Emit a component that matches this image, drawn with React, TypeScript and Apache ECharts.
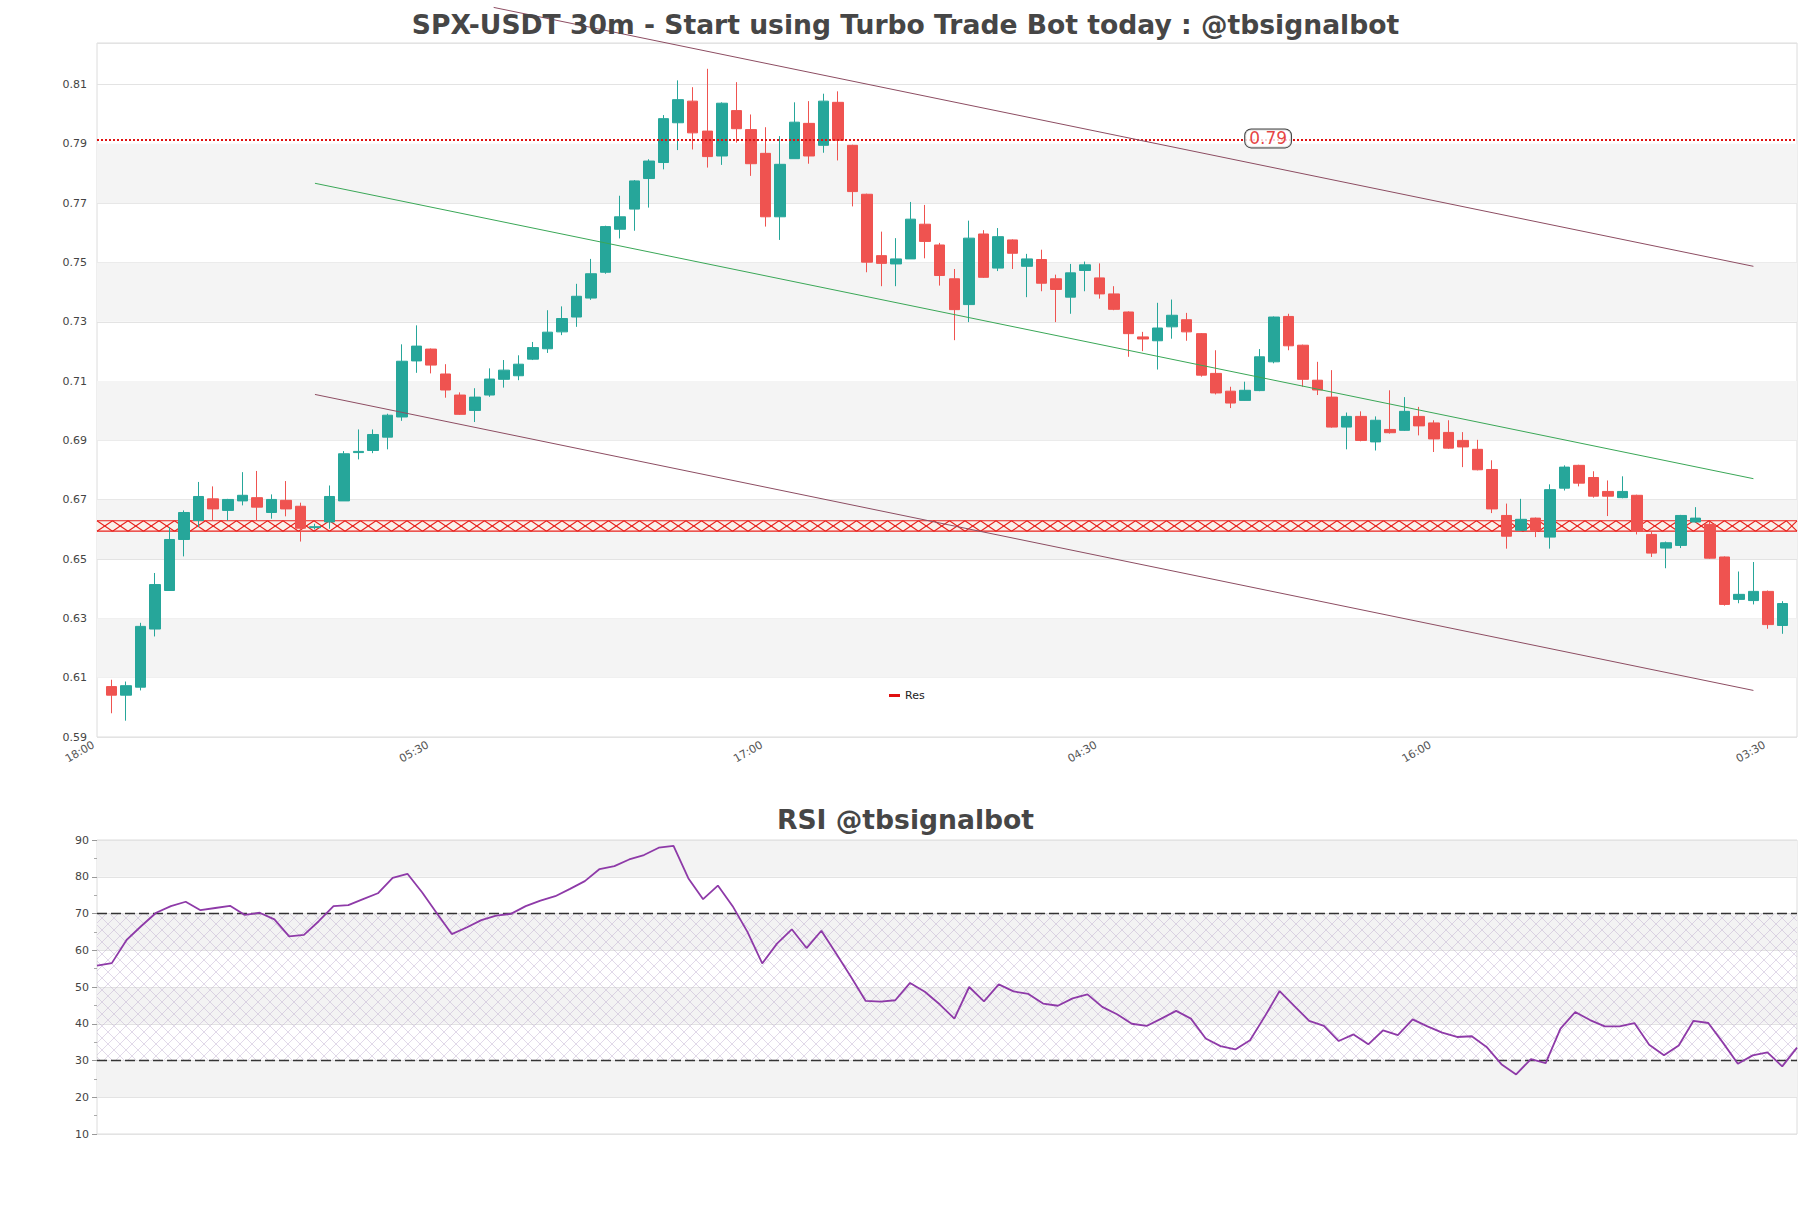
import React, { useEffect, useRef } from 'react';
import * as echarts from 'echarts';

const TITLE = 'SPX-USDT 30m - Start using Turbo Trade Bot today : @tbsignalbot';
const RSI_TITLE = 'RSI @tbsignalbot';
const START_MINUTES = 18 * 60; // first axis slot 18:00
const STEP_MINUTES = 30;
const SLOT_COUNT = 118; // axis slots (0..117), candles occupy 1..116
const LABEL_INTERVAL = 22; // a label every 23 slots

const opens = [
  0.6070, 0.6041, 0.6068, 0.6264, 0.6394, 0.6566, 0.6630, 0.6703, 0.6664, 0.6696,
  0.6707, 0.6657, 0.6698, 0.6678, 0.6606, 0.6625, 0.6696, 0.6859, 0.6866, 0.6911,
  0.6979, 0.7168, 0.7208, 0.7124, 0.7053, 0.7001, 0.7053, 0.7106, 0.7118, 0.7174,
  0.7209, 0.7266, 0.7316, 0.7380, 0.7467, 0.7612, 0.7680, 0.7783, 0.7837, 0.7971,
  0.8044, 0.7943, 0.7859, 0.8012, 0.7948, 0.7868, 0.7654, 0.7850, 0.7969, 0.7895,
  0.8040, 0.7895, 0.7730, 0.7523, 0.7495, 0.7512, 0.7629, 0.7559, 0.7445, 0.7358,
  0.7596, 0.7481, 0.7576, 0.7487, 0.7510, 0.7445, 0.7383, 0.7473, 0.7448, 0.7394,
  0.7333, 0.7249, 0.7236, 0.7283, 0.7307, 0.7260, 0.7126, 0.7066, 0.7035, 0.7068,
  0.7165, 0.7318, 0.7221, 0.7103, 0.7046, 0.6945, 0.6981, 0.6895, 0.6937, 0.6934,
  0.6981, 0.6959, 0.6927, 0.6900, 0.6870, 0.6802, 0.6647, 0.6597, 0.6638, 0.6574,
  0.6739, 0.6816, 0.6775, 0.6728, 0.6707, 0.6715, 0.6583, 0.6537, 0.6546, 0.6625,
  0.6617, 0.6507, 0.6364, 0.6360, 0.6391, 0.6276,
];
const closes = [
  0.6041, 0.6073, 0.6273, 0.6414, 0.6566, 0.6657, 0.6711, 0.6669, 0.6701, 0.6715,
  0.6675, 0.6701, 0.6669, 0.6604, 0.6609, 0.6711, 0.6855, 0.6863, 0.6920, 0.6985,
  0.7167, 0.7218, 0.7154, 0.7070, 0.6988, 0.7046, 0.7107, 0.7137, 0.7157, 0.7213,
  0.7265, 0.7311, 0.7386, 0.7462, 0.7621, 0.7654, 0.7775, 0.7842, 0.7985, 0.8049,
  0.7937, 0.7857, 0.8037, 0.7951, 0.7833, 0.7654, 0.7831, 0.7973, 0.7859, 0.8044,
  0.7912, 0.7739, 0.7501, 0.7497, 0.7512, 0.7646, 0.7571, 0.7456, 0.7341, 0.7582,
  0.7450, 0.7587, 0.7531, 0.7512, 0.7430, 0.7409, 0.7465, 0.7492, 0.7394, 0.7342,
  0.7260, 0.7242, 0.7279, 0.7322, 0.7266, 0.7120, 0.7060, 0.7026, 0.7069, 0.7182,
  0.7316, 0.7219, 0.7106, 0.7070, 0.6945, 0.6981, 0.6900, 0.6968, 0.6926, 0.6998,
  0.6949, 0.6905, 0.6874, 0.6878, 0.6801, 0.6669, 0.6577, 0.6634, 0.6597, 0.6734,
  0.6810, 0.6756, 0.6712, 0.6712, 0.6728, 0.6594, 0.6520, 0.6555, 0.6647, 0.6638,
  0.6503, 0.6347, 0.6381, 0.6391, 0.6279, 0.6350,
];
const lows = [
  0.5980, 0.5955, 0.6057, 0.6239, 0.6394, 0.6509, 0.6608, 0.6630, 0.6630, 0.6681,
  0.6630, 0.6636, 0.6644, 0.6559, 0.6600, 0.6602, 0.6696, 0.6836, 0.6857, 0.6870,
  0.6966, 0.7128, 0.7126, 0.7044, 0.6986, 0.6962, 0.7047, 0.7078, 0.7103, 0.7171,
  0.7195, 0.7255, 0.7283, 0.7374, 0.7462, 0.7581, 0.7607, 0.7685, 0.7814, 0.7879,
  0.7881, 0.7820, 0.7829, 0.7904, 0.7792, 0.7621, 0.7576, 0.7850, 0.7833, 0.7870,
  0.7844, 0.7689, 0.7467, 0.7420, 0.7420, 0.7512, 0.7514, 0.7422, 0.7238, 0.7299,
  0.7448, 0.7471, 0.7478, 0.7383, 0.7403, 0.7299, 0.7327, 0.7403, 0.7378, 0.7339,
  0.7182, 0.7201, 0.7139, 0.7243, 0.7236, 0.7115, 0.7055, 0.7009, 0.7034, 0.7066,
  0.7160, 0.7204, 0.7081, 0.7053, 0.6943, 0.6870, 0.6897, 0.6866, 0.6923, 0.6932,
  0.6917, 0.6861, 0.6872, 0.6810, 0.6799, 0.6655, 0.6535, 0.6595, 0.6574, 0.6535,
  0.6731, 0.6745, 0.6707, 0.6645, 0.6705, 0.6583, 0.6507, 0.6469, 0.6537, 0.6623,
  0.6501, 0.6343, 0.6351, 0.6347, 0.6265, 0.6248,
];
const highs = [
  0.6093, 0.6087, 0.6285, 0.6453, 0.6608, 0.6664, 0.6760, 0.6745, 0.6703, 0.6793,
  0.6797, 0.6718, 0.6763, 0.6690, 0.6619, 0.6748, 0.6864, 0.6937, 0.6937, 0.6990,
  0.7224, 0.7288, 0.7210, 0.7157, 0.7062, 0.7076, 0.7143, 0.7171, 0.7187, 0.7232,
  0.7339, 0.7352, 0.7428, 0.7512, 0.7624, 0.7725, 0.7778, 0.7848, 0.7997, 0.8114,
  0.8091, 0.8153, 0.8040, 0.8108, 0.7999, 0.7956, 0.7926, 0.8040, 0.8044, 0.8069,
  0.8077, 0.7897, 0.7732, 0.7604, 0.7582, 0.7704, 0.7694, 0.7566, 0.7478, 0.7641,
  0.7609, 0.7616, 0.7578, 0.7529, 0.7543, 0.7459, 0.7495, 0.7503, 0.7497, 0.7420,
  0.7335, 0.7266, 0.7364, 0.7375, 0.7330, 0.7262, 0.7204, 0.7081, 0.7098, 0.7208,
  0.7318, 0.7327, 0.7223, 0.7165, 0.7137, 0.6994, 0.6998, 0.6981, 0.7069, 0.7046,
  0.7013, 0.6968, 0.6968, 0.6928, 0.6902, 0.6833, 0.6687, 0.6703, 0.6640, 0.6752,
  0.6816, 0.6818, 0.6796, 0.6765, 0.6779, 0.6717, 0.6591, 0.6559, 0.6649, 0.6675,
  0.6625, 0.6509, 0.6458, 0.6490, 0.6394, 0.6358,
];

const rsiValues = [
  55.8, 56.5, 62.8, 66.6, 70.2, 72.0, 73.2, 70.9, 71.5, 72.1,
  69.6, 70.2, 68.4, 63.8, 64.2, 67.9, 72.0, 72.3, 73.9, 75.5,
  79.7, 80.8, 75.7, 70.0, 64.4, 66.2, 68.2, 69.4, 69.9, 72.0,
  73.5, 74.7, 76.7, 78.8, 82.1, 82.9, 84.7, 85.9, 87.9, 88.4,
  79.6, 73.9, 77.6, 72.0, 65.0, 56.4, 61.8, 65.7, 60.6, 65.3,
  59.1, 52.8, 46.2, 46.0, 46.4, 51.1, 48.7, 45.3, 41.4, 50.0,
  46.1, 50.7, 48.8, 48.1, 45.5, 44.9, 46.9, 48.0, 44.6, 42.6,
  40.0, 39.4, 41.4, 43.5, 41.4, 36.0, 33.9, 33.0, 35.5, 42.0,
  48.9, 44.8, 40.8, 39.4, 35.3, 37.1, 34.4, 38.2, 36.9, 41.2,
  39.3, 37.6, 36.4, 36.6, 33.7, 29.0, 26.2, 30.4, 29.3, 38.7,
  43.2, 41.0, 39.3, 39.3, 40.2, 34.3, 31.4, 34.1, 40.8, 40.2,
  34.8, 29.1, 31.4, 32.2, 28.4, 33.5,
];

// price axis
const PRICE_MIN = 0.59;
const PRICE_MAX = 0.824;
const PRICE_STEP = 0.02;
const PRICE_TOP_TICK = 0.81;
// RSI axis
const RSI_MIN = 10;
const RSI_MAX = 90;
const RSI_STEP = 10;
const RSI_LEVELS = [70, 30];

// annotations
const resistance = 0.7915;
const resistanceText = '0.79';
const resistanceTextAt = 80.6; // slot position of the label
const supportZone = [0.6594, 0.6629];
const upperChannel = [[27.3, 0.836], [114, 0.7487]];
const middleChannel = [[15, 0.7767], [114, 0.6771]];
const lowerChannel = [[15, 0.7055], [114, 0.6057]];

const FONT = 'DejaVu Sans';
const UP = '#26a69a';
const DOWN = '#ef5350';

function slotLabel(i: number) {
  const m = (START_MINUTES + STEP_MINUTES * i) % 1440;
  const h = Math.floor(m / 60);
  const mm = m % 60;
  return `${String(h).padStart(2, '0')}:${String(mm).padStart(2, '0')}`;
}

export default function App() {
  const ref = useRef<HTMLDivElement>(null);

  useEffect(() => {
    if (!ref.current) return;
    const chart = echarts.init(ref.current, null, { renderer: 'svg' });

    const slots = Array.from({ length: SLOT_COUNT }, (_, i) => slotLabel(i));
    const rsiSlots = rsiValues.map((_, i) => String(i));
    const candleData = opens.map((o, i) => [i + 1, o, closes[i], lows[i], highs[i]]);

    // grey bands for price grid
    const bands: any[] = [];
    const nBands = Math.round((PRICE_TOP_TICK - PRICE_MIN) / PRICE_STEP);
    for (let k = 1; k < nBands; k += 2) {
      const a = +(PRICE_MIN + k * PRICE_STEP).toFixed(4);
      const b = +(PRICE_MIN + (k + 1) * PRICE_STEP).toFixed(4);
      bands.push([{ yAxis: a }, { yAxis: b }]);
    }

    // hatch pattern for RSI zone
    const cv = document.createElement('canvas');
    cv.width = 12;
    cv.height = 12;
    const ctx = cv.getContext('2d');
    if (ctx) {
      ctx.strokeStyle = 'rgba(180,160,200,0.5)';
      ctx.lineWidth = 0.8;
      ctx.beginPath();
      ctx.moveTo(0, 0);
      ctx.lineTo(12, 12);
      ctx.moveTo(12, 0);
      ctx.lineTo(0, 12);
      ctx.stroke();
    }

    const option: any = {
      animation: false,
      backgroundColor: '#ffffff',
      textStyle: { fontFamily: FONT },
      title: [
        {
          text: TITLE,
          left: 'center',
          top: 6,
          textStyle: { fontSize: 26.6, fontWeight: 'bold', color: '#464646', fontFamily: FONT },
        },
        {
          text: RSI_TITLE,
          left: 'center',
          top: 801,
          textStyle: { fontSize: 26.6, fontWeight: 'bold', color: '#464646', fontFamily: FONT },
        },
      ],
      legend: {
        data: ['Res'],
        left: 884,
        top: 685,
        icon: 'rect',
        itemWidth: 11,
        itemHeight: 3,
        itemGap: 6,
        textStyle: { fontSize: 11, color: '#222', fontFamily: FONT },
      },
      grid: [
        { left: 97, right: 14, top: 43, height: 694, show: true, borderColor: '#dcdcdc', borderWidth: 1, backgroundColor: 'transparent' },
        { left: 97, right: 14, top: 840, height: 294, show: true, borderColor: '#dcdcdc', borderWidth: 1, backgroundColor: 'transparent' },
      ],
      xAxis: [
        {
          type: 'category',
          gridIndex: 0,
          data: slots,
          boundaryGap: false,
          axisLine: { show: false },
          axisTick: { show: false },
          splitLine: { show: false },
          axisLabel: {
            interval: LABEL_INTERVAL,
            rotate: 30,
            margin: 5,
            padding: [0, 4, 0, 0],
            fontSize: 11,
            color: '#555',
            fontFamily: FONT,
          },
        },
        {
          type: 'category',
          gridIndex: 1,
          data: rsiSlots,
          boundaryGap: false,
          axisLine: { show: false },
          axisTick: { show: false },
          axisLabel: { show: false },
          splitLine: { show: false },
        },
        {
          type: 'value',
          gridIndex: 0,
          min: 0,
          max: SLOT_COUNT - 1,
          show: false,
          splitLine: { show: false },
        },
      ],
      yAxis: [
        {
          type: 'value',
          gridIndex: 0,
          min: PRICE_MIN,
          max: PRICE_MAX,
          interval: PRICE_STEP,
          axisLine: { show: false },
          axisTick: { show: false },
          splitLine: { show: true, lineStyle: { color: '#e3e3e3', width: 1 } },
          axisLabel: {
            fontSize: 11,
            color: '#444',
            margin: 10,
            showMaxLabel: false,
            fontFamily: FONT,
            formatter: (v: number) => v.toFixed(2),
          },
        },
        {
          type: 'value',
          gridIndex: 1,
          min: RSI_MIN,
          max: RSI_MAX,
          interval: RSI_STEP,
          axisLine: { show: false },
          axisTick: { show: true, length: 5, lineStyle: { color: '#999' } },
          minorTick: { show: true, splitNumber: 2, length: 3, lineStyle: { color: '#aaa' } },
          splitLine: { show: true, lineStyle: { color: '#e3e3e3', width: 1 } },
          splitArea: { show: true, areaStyle: { color: ['rgba(255,255,255,0)', '#f3f3f3'] } },
          axisLabel: { fontSize: 11, color: '#444', margin: 8, fontFamily: FONT },
        },
      ],
      series: [
        {
          name: 'bands',
          type: 'line',
          xAxisIndex: 0,
          yAxisIndex: 0,
          data: [],
          silent: true,
          z: 0,
          markArea: {
            silent: true,
            itemStyle: { color: '#f4f4f4' },
            data: bands,
          },
        },
        {
          name: 'zone',
          type: 'custom',
          xAxisIndex: 0,
          yAxisIndex: 0,
          silent: true,
          z: 1,
          data: [[0, supportZone[0], supportZone[1]]],
          encode: { x: 0, y: [1, 2] },
          renderItem: (params: any, api: any) => {
            const cs = params.coordSys;
            const yTop = api.coord([0, api.value(2)])[1];
            const yBot = api.coord([0, api.value(1)])[1];
            const x0 = cs.x;
            const x1 = cs.x + cs.width;
            const step = 15.5;
            const stroke = { stroke: '#e8201c', lineWidth: 1.1 };
            const children: any[] = [
              {
                type: 'rect',
                shape: { x: x0, y: yTop, width: cs.width, height: yBot - yTop },
                style: { fill: 'rgba(255,236,225,0.55)' },
              },
              { type: 'line', shape: { x1: x0, y1: yTop, x2: x1, y2: yTop }, style: stroke },
              { type: 'line', shape: { x1: x0, y1: yBot, x2: x1, y2: yBot }, style: stroke },
            ];
            for (let x = x0; x < x1 - 0.5; x += step) {
              const xe = Math.min(x + step, x1);
              children.push({ type: 'line', shape: { x1: x, y1: yTop, x2: xe, y2: yBot }, style: stroke });
              children.push({ type: 'line', shape: { x1: x, y1: yBot, x2: xe, y2: yTop }, style: stroke });
            }
            return { type: 'group', children };
          },
        },
        {
          name: 'Res',
          type: 'line',
          xAxisIndex: 0,
          yAxisIndex: 0,
          data: [],
          symbol: 'none',
          itemStyle: { color: '#e01010' },
          lineStyle: { color: '#e01010', type: 'dotted', width: 2 },
          z: 3,
          markLine: {
            silent: true,
            symbol: 'none',
            precision: 6,
            label: { show: false },
            lineStyle: { color: '#e01010', type: 'dotted', width: 2 },
            data: [{ yAxis: resistance }],
          },
        },
        {
          name: 'candles',
          type: 'candlestick',
          xAxisIndex: 0,
          yAxisIndex: 0,
          data: candleData,
          encode: { x: 0, y: [1, 2, 3, 4] },
          barWidth: 11,
          z: 4,
          itemStyle: {
            color: UP,
            color0: DOWN,
            borderColor: UP,
            borderColor0: DOWN,
            borderWidth: 1,
          },
        },
        {
          name: 'upper',
          type: 'line',
          xAxisIndex: 2,
          yAxisIndex: 0,
          data: upperChannel,
          symbol: 'none',
          clip: false,
          z: 5,
          lineStyle: { color: '#8d4d62', width: 1 },
        },
        {
          name: 'middle',
          type: 'line',
          xAxisIndex: 2,
          yAxisIndex: 0,
          data: middleChannel,
          symbol: 'none',
          clip: false,
          z: 5,
          lineStyle: { color: '#3aa757', width: 1 },
        },
        {
          name: 'lower',
          type: 'line',
          xAxisIndex: 2,
          yAxisIndex: 0,
          data: lowerChannel,
          symbol: 'none',
          clip: false,
          z: 5,
          lineStyle: { color: '#8d4d62', width: 1 },
        },
        {
          name: 'resLabel',
          type: 'scatter',
          xAxisIndex: 2,
          yAxisIndex: 0,
          data: [[resistanceTextAt, resistance]],
          symbolSize: 0,
          z: 6,
          silent: true,
          label: {
            show: true,
            position: 'inside',
            offset: [0, -1],
            formatter: resistanceText,
            color: '#e01010',
            fontSize: 17,
            fontFamily: FONT,
            backgroundColor: '#ffffff',
            borderColor: '#111',
            borderWidth: 1,
            borderRadius: 6,
            padding: [1, 4, 0, 4],
          },
        },
        {
          name: 'RSI',
          type: 'line',
          xAxisIndex: 1,
          yAxisIndex: 1,
          data: rsiValues,
          symbol: 'none',
          z: 5,
          lineStyle: { color: '#8e3aa8', width: 1.8 },
          markLine: {
            silent: true,
            symbol: 'none',
            precision: 6,
            label: { show: false },
            lineStyle: { color: '#333', type: [10, 4], width: 1.3 },
            data: RSI_LEVELS.map((v) => ({ yAxis: v })),
          },
          markArea: {
            silent: true,
            itemStyle: { color: { image: cv, repeat: 'repeat' } },
            data: [[{ yAxis: RSI_LEVELS[1] }, { yAxis: RSI_LEVELS[0] }]],
          },
        },
      ],
    };

    chart.setOption(option);
    return () => chart.dispose();
  }, []);

  return (
    <div
      ref={ref}
      style={{ position: 'absolute', left: 0, top: 0, width: 1811, height: 1208, background: '#fff' }}
    />
  );
}
